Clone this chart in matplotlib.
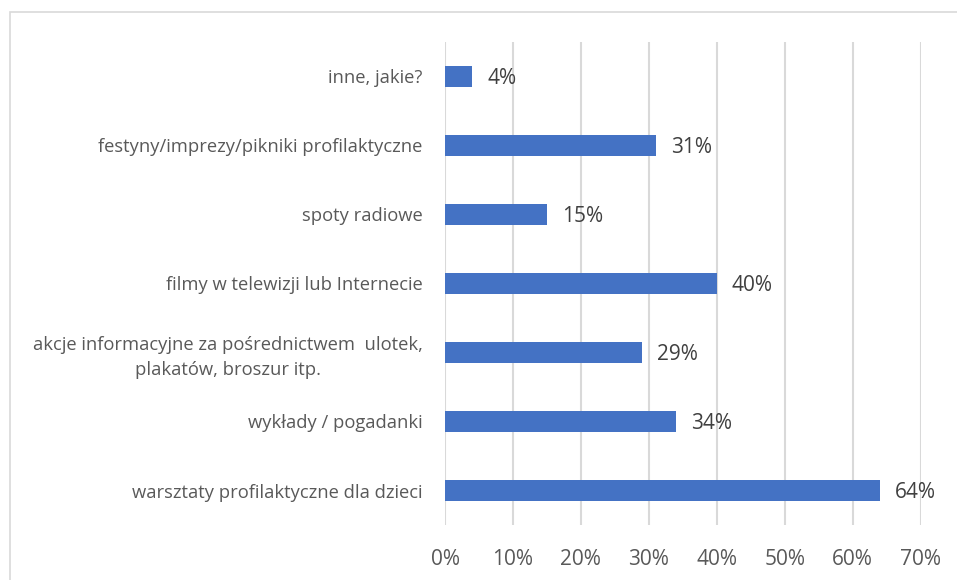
import matplotlib
matplotlib.use('Agg')
import matplotlib.pyplot as plt
from matplotlib.patches import Rectangle

# data (bottom to top)
categories = ['warsztaty profilaktyczne dla dzieci',
              'wykłady / pogadanki',
              'akcje informacyjne za pośrednictwem  ulotek,\nplakatów, broszur itp.',
              'filmy w telewizji lub Internecie',
              'spoty radiowe',
              'festyny/imprezy/pikniki profilaktyczne',
              'inne, jakie?']
values = [64, 34, 29, 40, 15, 31, 4]
xticks = [0, 10, 20, 30, 40, 50, 60, 70]

plt.rcParams['font.family'] = ['Open Sans', 'DejaVu Sans']
txt = '#595959'

fig = plt.figure(figsize=(9.57, 5.8), dpi=100)
ax = fig.add_axes([0.465, 0.0948, 0.497, 0.833])

# frame around chart area
fig.patches.append(Rectangle((10/957, -0.1), 1.1, 1 - 12/580 + 0.1,
                             transform=fig.transFigure, fill=False,
                             edgecolor='#D9D9D9', linewidth=1.2))

ypos = range(len(categories))
ax.barh(ypos, values, height=0.31, color='#4472C4', zorder=3)
for y, v in zip(ypos, values):
    ax.text(v + 2.2, y - 0.03, f'{v}%', va='center', ha='left', fontsize=15, color='#404040')

ax.set_xlim(0, 70)
ax.set_ylim(-0.5, len(categories) - 0.5)
ax.set_xticks(xticks)
ax.set_xticklabels([f'{t}%' for t in xticks], fontsize=15, color=txt)
ax.set_yticks(list(ypos))
ax.set_yticklabels(categories, fontsize=13.2, color=txt, ha='right',
                   multialignment='center', linespacing=1.45)
ax.tick_params(axis='y', length=0, pad=16)
ax.tick_params(axis='x', length=0, pad=17)
ax.grid(axis='x', color='#D9D9D9', linewidth=1.5, zorder=0)
for s in ax.spines.values():
    s.set_visible(False)

fig.savefig('out.png', dpi=100)
